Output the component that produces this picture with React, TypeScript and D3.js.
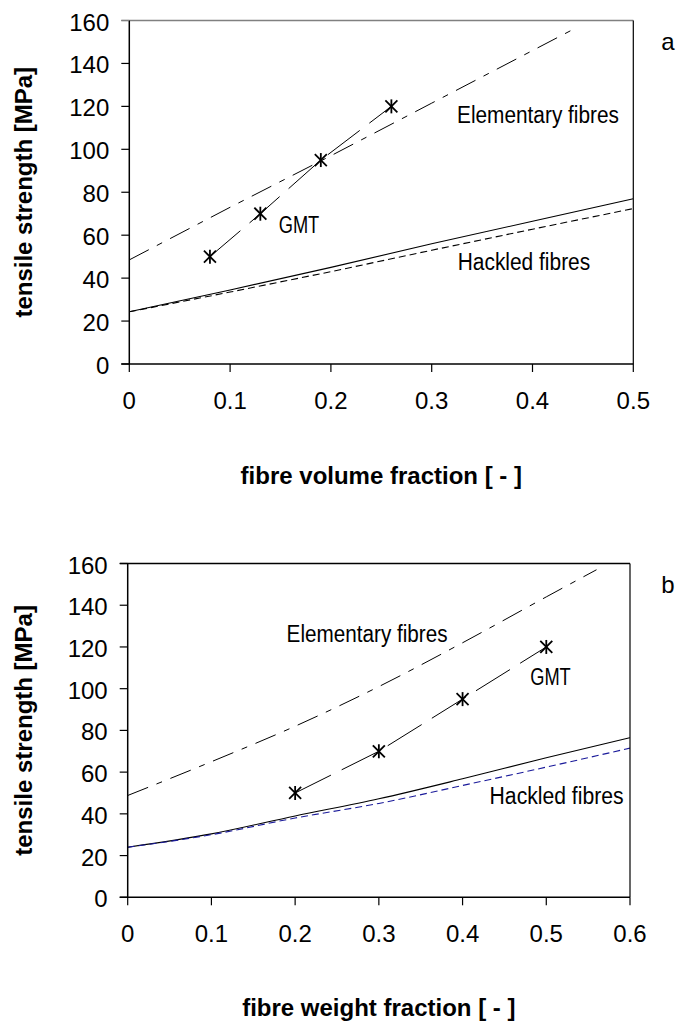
import React from "react";
import * as d3 from "d3";

// ---------- data ----------
const yTicks = [0, 20, 40, 60, 80, 100, 120, 140, 160];
const xTicksA = [0, 0.1, 0.2, 0.3, 0.4, 0.5];
const xTicksB = [0, 0.1, 0.2, 0.3, 0.4, 0.5, 0.6];

// panel a: fibre volume fraction
const elemAx = [0, 0.1, 0.2, 0.3, 0.4, 0.445];
const elemAy = [48.5, 73, 97, 121.5, 146, 157];
const hackAx = [0, 0.1, 0.2, 0.3, 0.4, 0.5];
const hackSolidAy = [24.3, 34.5, 45, 56, 66.5, 77];
const hackDashAy = [24.3, 33.5, 43, 53, 62.8, 72.4];
const gmtAx = [0.08, 0.13, 0.19, 0.26];
const gmtAy = [50, 70, 95, 120];

// panel b: fibre weight fraction
const elemBx = [0, 0.1, 0.2, 0.3, 0.4, 0.5, 0.56];
const elemBy = [48.8, 65, 82, 101, 122, 144, 157];
const hackBx = [0, 0.1, 0.2, 0.3, 0.4, 0.5, 0.6];
const hackSolidBy = [24, 30.4, 39, 47.2, 56.8, 66.9, 76.5];
const hackDashBy = [24, 30, 38, 45, 53.6, 62.4, 71.5];
const gmtBx = [0.2, 0.3, 0.4, 0.5];
const gmtBy = [50, 70, 95, 120];

const yTitle = "tensile strength [MPa]";
const xTitleA = "fibre volume fraction [ - ]";
const xTitleB = "fibre weight fraction [ - ]";

const FONT = "'Liberation Sans', Arial, sans-serif";

type Lbl = { text: string; x: number; y: number; w: number };

type PanelProps = {
  left: number; right: number; top: number; bottom: number;
  xMax: number; xTicks: number[];
  elem: [number[], number[]];
  hackSolid: [number[], number[]];
  hackDash: [number[], number[]];
  gmt: [number[], number[]];
  hackDashColor: string;
  topBorderColor: string;
  curved: boolean;
  xTitle: string; xTitleY: number;
  letter: string; letterY: number;
  labels: Lbl[];
  tickLabelY: number;
};

function zip(a: [number[], number[]]) {
  return a[0].map((x, i) => [x, a[1][i]] as [number, number]);
}

function Star({ cx, cy }: { cx: number; cy: number }) {
  const s = 6;
  return (
    <g stroke="#000" strokeWidth={1.8}>
      <line x1={cx - s} y1={cy - s} x2={cx + s} y2={cy + s} />
      <line x1={cx - s} y1={cy + s} x2={cx + s} y2={cy - s} />
      <line x1={cx} y1={cy - s - 1} x2={cx} y2={cy + s + 1} />
    </g>
  );
}

function Panel(p: PanelProps) {
  const x = d3.scaleLinear().domain([0, p.xMax]).range([p.left, p.right]);
  const y = d3.scaleLinear().domain([0, 160]).range([p.bottom, p.top]);
  const line = d3
    .line<[number, number]>()
    .x((d) => x(d[0]))
    .y((d) => y(d[1]))
    .curve(p.curved ? d3.curveMonotoneX : d3.curveLinear);
  const gmtLine = d3.line<[number, number]>().x((d) => x(d[0])).y((d) => y(d[1]));
  const fmt = (v: number) => (v === 0 ? "0" : d3.format(".1f")(v));
  const midY = (p.top + p.bottom) / 2;
  const midX = (p.left + p.right) / 2;
  const clipId = "clip" + p.letter;
  return (
    <g>
      <defs>
        <clipPath id={clipId}>
          <rect x={p.left} y={p.top} width={p.right - p.left} height={p.bottom - p.top} />
        </clipPath>
      </defs>
      <g clipPath={`url(#${clipId})`} fill="none">
        <path d={line(zip(p.elem)) || ""} stroke="#000" strokeWidth={1} strokeDasharray="22,9,6,9" />
        <path d={line(zip(p.hackSolid)) || ""} stroke="#000" strokeWidth={1.1} />
        <path d={line(zip(p.hackDash)) || ""} stroke={p.hackDashColor} strokeWidth={1.1} strokeDasharray="7,4" />
        <path d={gmtLine(zip(p.gmt)) || ""} stroke="#000" strokeWidth={1} strokeDasharray="40,12" />
      </g>
      {zip(p.gmt).map((d, i) => (
        <Star key={i} cx={x(d[0])} cy={y(d[1])} />
      ))}
      {/* frame */}
      <line x1={p.left - 8} y1={p.top} x2={p.right} y2={p.top} stroke={p.topBorderColor} strokeWidth={1.5} />
      <line x1={p.right} y1={p.top} x2={p.right} y2={p.bottom} stroke="#000" strokeWidth={1.2} />
      <line x1={p.left} y1={p.top} x2={p.left} y2={p.bottom} stroke="#000" strokeWidth={1.5} />
      <line x1={p.left - 8} y1={p.bottom} x2={p.right} y2={p.bottom} stroke="#000" strokeWidth={1.5} />
      {/* y ticks */}
      {yTicks.map((t) => (
        <g key={t}>
          <line x1={p.left - 8} x2={p.left} y1={y(t)} y2={y(t)} stroke={t === 160 ? p.topBorderColor : "#000"} strokeWidth={1.2} />
          <text x={p.left - 20} y={y(t) + 10} textAnchor="end" fontFamily={FONT} fontSize={24} fill="#000">
            {t}
          </text>
        </g>
      ))}
      {/* x ticks */}
      {p.xTicks.map((t) => (
        <g key={t}>
          <line x1={x(t)} x2={x(t)} y1={p.bottom} y2={p.bottom + 8} stroke="#000" strokeWidth={1.2} />
          <text x={x(t)} y={p.tickLabelY} textAnchor="middle" fontFamily={FONT} fontSize={24} fill="#000">
            {fmt(t)}
          </text>
        </g>
      ))}
      {/* titles */}
      <text
        transform={`translate(32,${midY}) rotate(-90)`}
        textAnchor="middle"
        fontFamily={FONT}
        fontWeight="bold"
        fontSize={24}
        fill="#000"
      >
        {yTitle}
      </text>
      <text x={midX} y={p.xTitleY} textAnchor="middle" fontFamily={FONT} fontWeight="bold" fontSize={24} fill="#000">
        {p.xTitle}
      </text>
      <text x={668} y={p.letterY} textAnchor="middle" fontFamily={FONT} fontSize={24} fill="#000">
        {p.letter}
      </text>
      {p.labels.map((l) => (
        <text
          key={l.text}
          x={l.x}
          y={l.y}
          fontFamily={FONT}
          fontSize={23}
          fill="#000"
          textLength={l.w}
          lengthAdjust="spacingAndGlyphs"
        >
          {l.text}
        </text>
      ))}
    </g>
  );
}

export default function App() {
  return (
    <svg
      width={682}
      height={1024}
      style={{ position: "absolute", left: 0, top: 0, background: "#fff" }}
    >
      <rect width={682} height={1024} fill="#fff" />
      <Panel
        left={129.3}
        right={633.3}
        top={20.5}
        bottom={364}
        xMax={0.5}
        xTicks={xTicksA}
        elem={[elemAx, elemAy]}
        hackSolid={[hackAx, hackSolidAy]}
        hackDash={[hackAx, hackDashAy]}
        gmt={[gmtAx, gmtAy]}
        hackDashColor="#000"
        topBorderColor="#808080"
        curved={false}
        xTitle={xTitleA}
        xTitleY={484}
        letter="a"
        letterY={50}
        tickLabelY={409}
        labels={[
          { text: "Elementary fibres", x: 457, y: 122.5, w: 162 },
          { text: "GMT", x: 278.7, y: 233, w: 40.6 },
          { text: "Hackled fibres", x: 457.7, y: 270.3, w: 132.5 },
        ]}
      />
      <Panel
        left={127.7}
        right={630}
        top={563.5}
        bottom={897.3}
        xMax={0.6}
        xTicks={xTicksB}
        elem={[elemBx, elemBy]}
        hackSolid={[hackBx, hackSolidBy]}
        hackDash={[hackBx, hackDashBy]}
        gmt={[gmtBx, gmtBy]}
        hackDashColor="#1a1a9a"
        topBorderColor="#000"
        curved={true}
        xTitle={xTitleB}
        xTitleY={1016}
        letter="b"
        letterY={593}
        tickLabelY={941.5}
        labels={[
          { text: "Elementary fibres", x: 286.6, y: 641.8, w: 161 },
          { text: "GMT", x: 530.2, y: 685.2, w: 40.6 },
          { text: "Hackled fibres", x: 489.6, y: 803.8, w: 134 },
        ]}
      />
    </svg>
  );
}
